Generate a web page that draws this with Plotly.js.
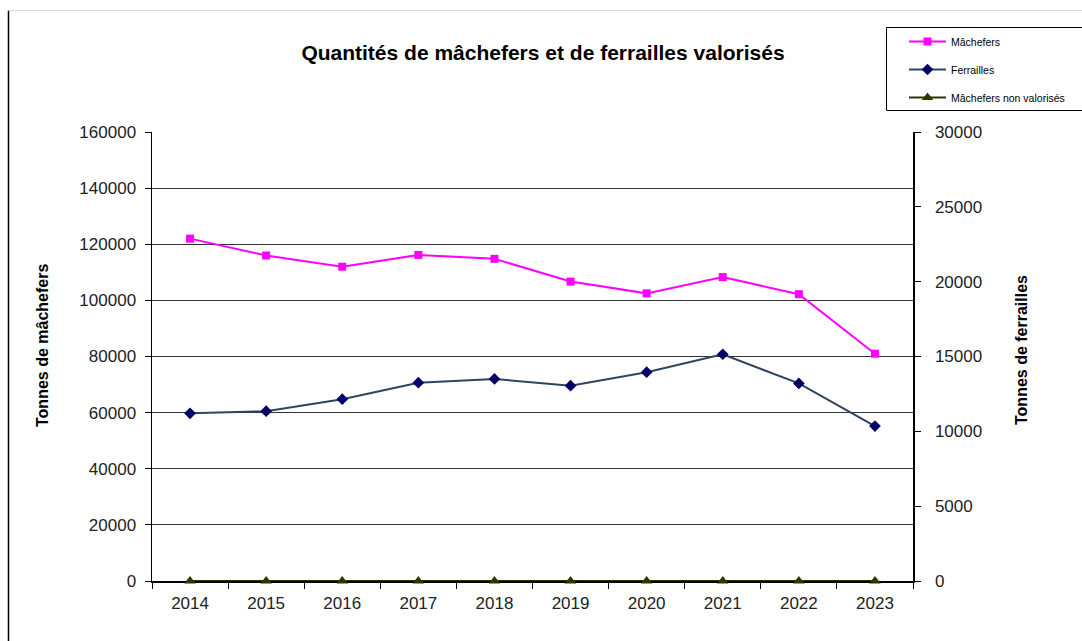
<!DOCTYPE html>
<html>
<head>
<meta charset="utf-8">
<script src="https://cdn.plot.ly/plotly-3.0.1.min.js"></script>
<style>html,body{margin:0;padding:0;background:#fff;overflow:hidden;}#chart{width:1082px;height:641px;}</style>
</head>
<body>
<div id="chart"></div>
<script>
const years = ['2014','2015','2016','2017','2018','2019','2020','2021','2022','2023'];
const machefers = [122000, 116000, 112000, 116200, 114800, 106700, 102500, 108300, 102200, 81000];
const ferrailles = [11200, 11350, 12150, 13250, 13500, 13050, 13950, 15150, 13200, 10350];
const machefersNonValorises = [0, 0, 0, 0, 0, 0, 0, 0, 0, 0];

const W = 1082, H = 641, L = 152, R = 913, T = 132, B = 581;
const px = x => (x - L) / (R - L);
const py = y => (B - y) / (B - T);

const traces = [
  {x: years, y: machefers, name: 'Mâchefers', type: 'scatter', mode: 'lines+markers',
   line: {color: '#FF00FF', width: 2}, marker: {symbol: 'square', size: 8, color: '#FF00FF'},
   legendgroup: 'a', legendrank: 1, yaxis: 'y', cliponaxis: false},
  {x: years, y: machefersNonValorises, name: 'Mâchefers non valorisés', type: 'scatter', mode: 'lines+markers',
   line: {color: '#333300', width: 2}, marker: {symbol: 'triangle-up', size: 10, color: '#333300'},
   legendgroup: 'c', legendrank: 3, yaxis: 'y', cliponaxis: false},
  {x: years, y: ferrailles, name: 'Ferrailles', type: 'scatter', mode: 'lines+markers',
   line: {color: '#2E4460', width: 2}, marker: {symbol: 'diamond', size: 9, color: '#000066'},
   legendgroup: 'b', legendrank: 2, yaxis: 'y2', cliponaxis: false}
];

const font = 'Arial, "Liberation Sans", sans-serif';
const layout = {
  width: W, height: H,
  margin: {l: L, r: W - R, t: T, b: H - B, pad: 0, autoexpand: false},
  paper_bgcolor: '#fff', plot_bgcolor: '#fff',
  font: {family: font, color: '#222'},
  showlegend: true,
  title: {text: '<b>Quantités de mâchefers et de ferrailles valorisés</b>', font: {size: 21, color: '#000', family: font},
          x: 543 / W, xanchor: 'center', xref: 'container', y: 1 - 53 / H, yanchor: 'middle', yref: 'container'},
  xaxis: {type: 'category', range: [-0.5, 9.5], showline: true, linecolor: '#000', linewidth: 1.5, ticks: 'outside',
          tickson: 'boundaries', ticklen: 6, tickcolor: '#000', ticklabelstandoff: 6,
          tickfont: {size: 17, color: '#222'}, showgrid: false, zeroline: false, layer: 'below traces'},
  yaxis: {range: [0, 160000], dtick: 20000, tickformat: 'd', showline: true, linecolor: '#000', linewidth: 1.5,
          ticks: 'outside', ticklen: 6, tickcolor: '#000', ticklabelstandoff: 5, tickfont: {size: 17, color: '#222'},
          showgrid: true, gridcolor: '#333', gridwidth: 1, zeroline: false, layer: 'below traces'},
  yaxis2: {range: [0, 30000], dtick: 5000, tickformat: 'd', overlaying: 'y', side: 'right', showline: true,
           linecolor: '#000', linewidth: 1.5, ticks: 'outside', ticklen: 6, tickcolor: '#000', ticklabelstandoff: 11,
           tickfont: {size: 17, color: '#222'}, showgrid: false, zeroline: false, layer: 'below traces'},
  yaxis4: {range: [0, 30000], dtick: 5000, overlaying: 'y', side: 'right', anchor: 'x', ticks: 'inside', ticklen: 5,
           tickcolor: '#000', showticklabels: false, showline: false, showgrid: false, zeroline: false},
  legend: {xref: 'container', yref: 'container', x: 904 / W, y: 1 - 27 / H, xanchor: 'left', yanchor: 'top',
           bgcolor: 'rgba(0,0,0,0)', borderwidth: 0, font: {size: 10.5, color: '#000'}, traceorder: 'grouped',
           tracegroupgap: 9, itemwidth: 37},
  annotations: [
    {text: '<b>Tonnes de mâchefers</b>', xref: 'paper', yref: 'paper', x: px(42), y: py(346), xanchor: 'center',
     yanchor: 'middle', textangle: -90, showarrow: false, font: {size: 16, color: '#000'}},
    {text: '<b>Tonnes de ferrailles</b>', xref: 'paper', yref: 'paper', x: px(1021), y: py(350), xanchor: 'center',
     yanchor: 'middle', textangle: -90, showarrow: false, font: {size: 16, color: '#000'}}
  ],
  shapes: [
    {type: 'rect', xref: 'paper', yref: 'paper', x0: px(886.5), x1: px(1086), y0: py(110.5), y1: py(27.5),
     line: {color: '#000', width: 1}, layer: 'above'},
    {type: 'line', xref: 'paper', yref: 'paper', x0: px(8.5), x1: px(8.5), y0: py(641), y1: py(10.5),
     line: {color: '#000', width: 1.5}},
    {type: 'line', xref: 'paper', yref: 'paper', x0: px(8.5), x1: px(1082), y0: py(10.5), y1: py(10.5),
     line: {color: '#ddd', width: 1}}
  ]
};

Plotly.newPlot('chart', traces, layout, {displayModeBar: false, staticPlot: true});
</script>
</body>
</html>
